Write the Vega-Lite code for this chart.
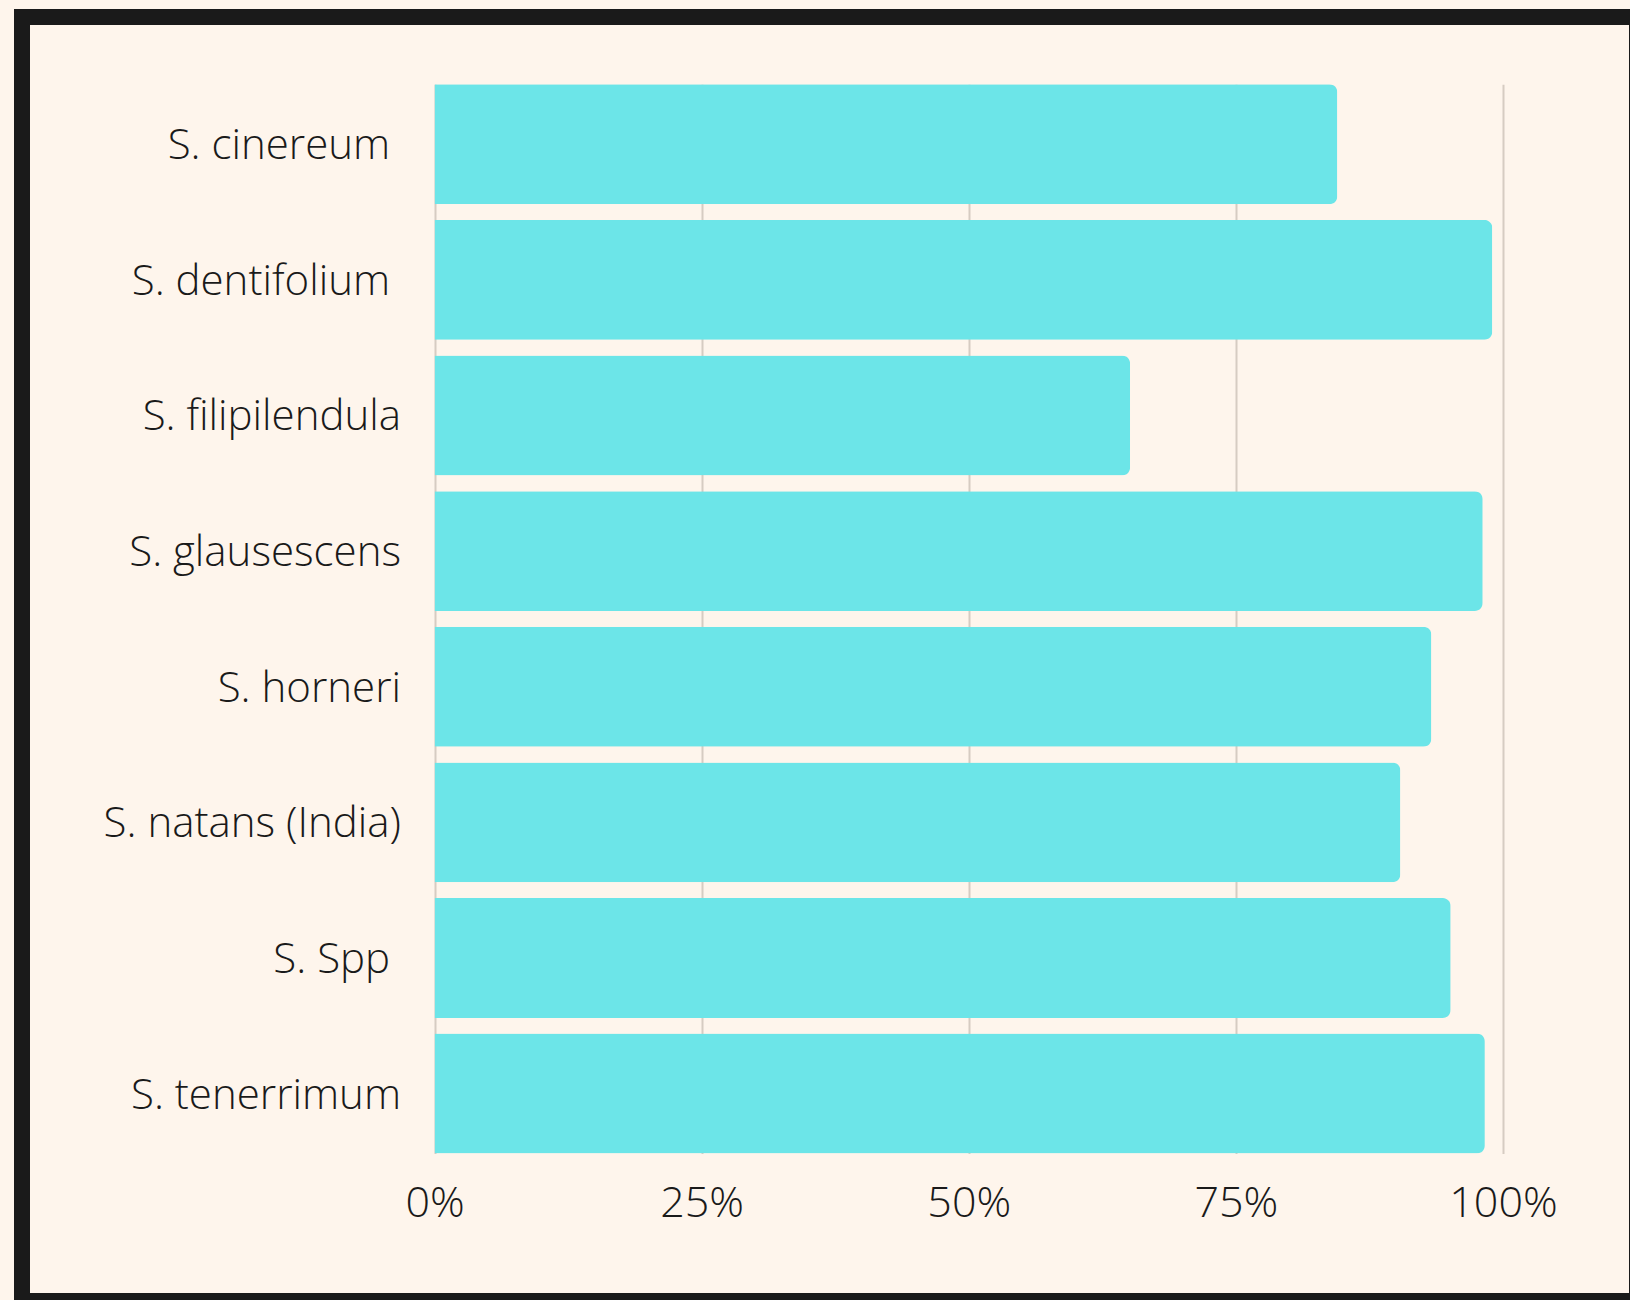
{
  "$schema": "https://vega.github.io/schema/vega-lite/v6.json",
  "width": 1615,
  "height": 1284,
  "autosize": {"type": "none"},
  "padding": {"left": 22, "top": 17, "right": 0, "bottom": 0},
  "background": "#fef5ec",
  "config": {
    "view": {"stroke": "#1a1a1a", "strokeWidth": 16, "fill": "#fef5ec"},
    "font": "Open Sans"
  },
  "data": {
    "values": [
      {"species": "S. cinereum ", "share": 0.845},
      {"species": "S. dentifolium ", "share": 0.990},
      {"species": "S. filipilendula", "share": 0.651},
      {"species": "S. glausescens", "share": 0.981},
      {"species": "S. horneri", "share": 0.933},
      {"species": "S. natans (India)", "share": 0.904},
      {"species": "S. Spp ", "share": 0.951},
      {"species": "S. tenerrimum", "share": 0.983}
    ]
  },
  "mark": {"type": "bar", "color": "#6ce5e8", "cornerRadiusEnd": 8},
  "encoding": {
    "y": {
      "field": "species",
      "type": "nominal",
      "sort": null,
      "scale": {"range": [67.3, 1136.5], "paddingInner": 0.116, "paddingOuter": 0},
      "axis": {
        "title": null,
        "orient": "left",
        "offset": -412.5,
        "domain": false,
        "ticks": false,
        "grid": false,
        "labelPadding": 34,
        "labelOffset": 2,
        "labelFont": "Open Sans",
        "labelFontWeight": 300,
        "labelFontSize": 42,
        "labelColor": "#1a1a1a",
        "labelLimit": 0,
        "labelExpr": "datum.label + '\u200b'"
      }
    },
    "x": {
      "field": "share",
      "type": "quantitative",
      "scale": {"domain": [0, 1], "range": [412.5, 1481], "nice": false},
      "axis": {
        "title": null,
        "orient": "top",
        "offset": 0,
        "values": [0, 0.25, 0.5, 0.75, 1],
        "format": ".0%",
        "domain": false,
        "ticks": false,
        "grid": true,
        "gridColor": "#d6ccc2",
        "gridWidth": 2,
        "gridOpacity": 1,
        "labelPadding": -1165.5,
        "labelBaseline": "top",
        "labelFont": "Open Sans",
        "labelFontWeight": 300,
        "labelFontSize": 43,
        "labelColor": "#1a1a1a",
        "labelFlush": false,
        "labelOverlap": false
      }
    }
  }
}
